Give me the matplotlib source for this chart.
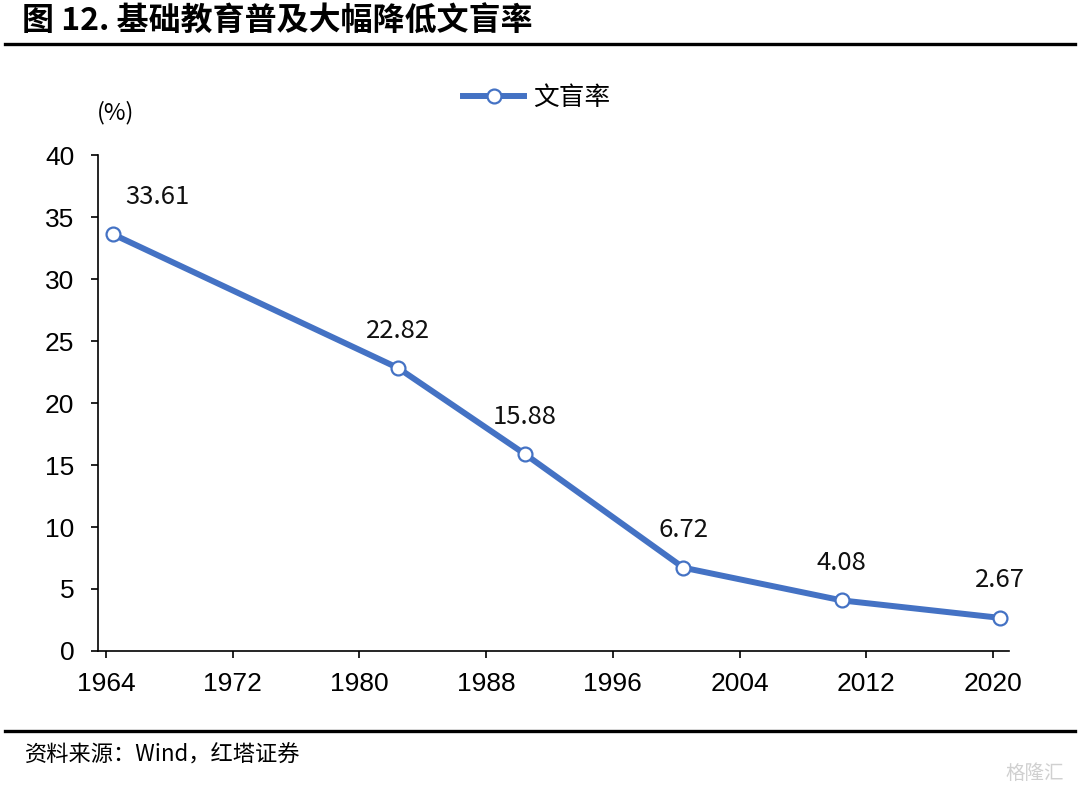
import matplotlib
matplotlib.use("Agg")
import matplotlib.pyplot as plt
from matplotlib.lines import Line2D

# --- Data ---
years = [1964, 1982, 1990, 2000, 2010, 2020]
illiteracy = [33.61, 22.82, 15.88, 6.72, 4.08, 2.67]
value_labels = ["33.61", "22.82", "15.88", "6.72", "4.08", "2.67"]
xticks = [1964, 1972, 1980, 1988, 1996, 2004, 2012, 2020]
yticks = [0, 5, 10, 15, 20, 25, 30, 35, 40]

title = "图 12. 基础教育普及大幅降低文盲率"
source = "资料来源：Wind，红塔证券"
series_name = "文盲率"

CJK = ["Noto Sans CJK SC", "DejaVu Sans"]
LATIN = ["Liberation Sans", "Noto Sans CJK SC"]
BLUE = "#4472C4"

plt.rcParams["font.family"] = CJK

fig = plt.figure(figsize=(10.8, 7.91), dpi=100)
ax = fig.add_axes([0.0907, 0.177, 0.8435, 0.627])

# points sit mid-year on the date axis
xs = [y + 0.45 for y in years]
ax.plot(xs, illiteracy, color=BLUE, linewidth=4.3, marker="o", markersize=10,
        markerfacecolor="white", markeredgecolor=BLUE, markeredgewidth=1.6,
        solid_capstyle="butt", zorder=3, clip_on=False)

for i, (x, v, lab) in enumerate(zip(xs, illiteracy, value_labels)):
    dx = 32 if i == 0 else 0
    ax.annotate(lab, (x, v), xytext=(dx, 27), textcoords="offset points",
                ha="center", va="center", fontsize=18.5, family=CJK, color="#111111")

ax.set_xlim(1963.5, 2021.0)
ax.set_ylim(0, 40)
ax.set_xticks(xticks)
ax.set_yticks(yticks)
ax.tick_params(axis="both", direction="out", length=5, width=1.2, colors="black",
               labelsize=19)
for lab in ax.get_xticklabels() + ax.get_yticklabels():
    lab.set_family(LATIN)
ax.tick_params(axis="x", pad=10)
ax.tick_params(axis="y", pad=12)

for s in ["top", "right"]:
    ax.spines[s].set_visible(False)
for s in ["left", "bottom"]:
    ax.spines[s].set_linewidth(1.2)
    ax.spines[s].set_color("black")

# unit label
fig.text(0.107, 0.858, "(%)", fontsize=17, family=CJK, ha="center", va="center")

# legend
handle = Line2D([], [], color=BLUE, linewidth=4.3, marker="o", markersize=10,
                markerfacecolor="white", markeredgecolor=BLUE, markeredgewidth=1.6)
fig.legend([handle], [series_name], loc="center", bbox_to_anchor=(0.497, 0.876),
           frameon=False, fontsize=18.5, handlelength=2.4, handletextpad=0.35)

# title and rules
fig.text(0.02, 0.972, title, fontsize=23, fontweight="bold", family=["Noto Sans CJK SC"],
         ha="left", va="center")
fig.add_artist(Line2D([0.005, 0.995], [0.944, 0.944], color="black", linewidth=2.4,
                      transform=fig.transFigure))
fig.add_artist(Line2D([0.005, 0.995], [0.076, 0.076], color="black", linewidth=2.4,
                      transform=fig.transFigure))
fig.text(0.023, 0.045, source, fontsize=16, family=CJK, ha="left", va="center")

# watermark
fig.text(0.985, 0.022, "格隆汇", fontsize=14, family=CJK, ha="right", va="center",
         color="#d0d0d0")

fig.savefig("out.png", dpi=100)
